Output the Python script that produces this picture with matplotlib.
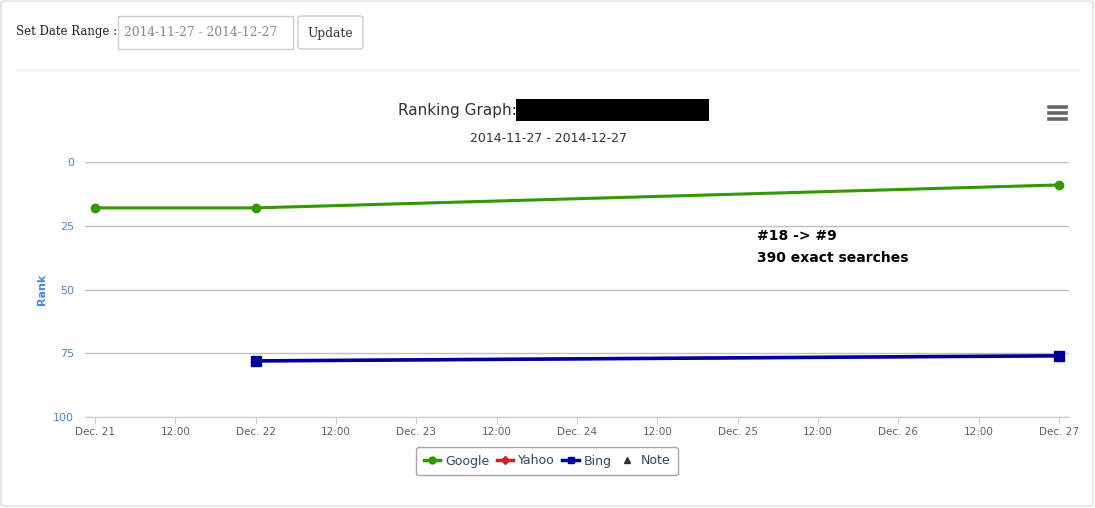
import datetime as dt
import matplotlib
matplotlib.use("Agg")
import matplotlib.pyplot as plt
import matplotlib.dates as mdates
from matplotlib.lines import Line2D
from matplotlib.patches import FancyBboxPatch, Rectangle

# data
google_dates = [dt.datetime(2014, 12, 21), dt.datetime(2014, 12, 22), dt.datetime(2014, 12, 27)]
google_rank = [18, 18, 9]
bing_dates = [dt.datetime(2014, 12, 22), dt.datetime(2014, 12, 27)]
bing_rank = [78, 76]
yahoo_dates = [dt.datetime(2014, 12, 22), dt.datetime(2014, 12, 27)]
yahoo_rank = [78, 76]
y_ticks = [0, 25, 50, 75, 100]
date_range = "2014-11-27 - 2014-12-27"
note_lines = ["#18 -> #9", "390 exact searches"]

W, H = 1095, 508
fig = plt.figure(figsize=(W / 100, H / 100), dpi=100)
fig.patch.set_facecolor("white")


def px(x, y):
    """pixel coords (top-left origin) -> figure fraction"""
    return x / W, 1 - y / H


def box(x0, y0, x1, y1, **kw):
    fx, fy = px(x0, y1)
    p = FancyBboxPatch((fx, fy), (x1 - x0) / W, (y1 - y0) / H,
                       transform=fig.transFigure, **kw)
    fig.patches.append(p)


# outer panel + form
box(1, 1, 1093, 506, boxstyle="round,pad=0,rounding_size=0.004",
    facecolor="none", edgecolor="#dddddd", linewidth=1)
fig.text(*px(16, 32), "Set Date Range :", family="DejaVu Serif", fontsize=8.5,
         va="center", ha="left", color="#222222")
box(118, 16, 293, 49, boxstyle="square,pad=0", facecolor="none",
    edgecolor="#cccccc", linewidth=1)
fig.text(*px(124, 33), date_range, family="DejaVu Serif", fontsize=8.8,
         va="center", ha="left", color="#888888")
box(298, 16, 363, 49, boxstyle="round,pad=0,rounding_size=0.004",
    facecolor="none", edgecolor="#cccccc", linewidth=1)
fig.text(*px(330.5, 33), "Update", family="DejaVu Serif", fontsize=8.8,
         va="center", ha="center", color="#333333")
fig.add_artist(Line2D([16 / W, 1079 / W], [1 - 70 / H] * 2, color="#eeeeee",
                      linewidth=1, transform=fig.transFigure))

# titles
fig.text(*px(398, 111), "Ranking Graph:", fontsize=11, va="center", ha="left",
         color="#333333")
rx, ry = px(516, 121)
fig.patches.append(Rectangle((rx, ry), 193 / W, 22 / H, transform=fig.transFigure,
                             facecolor="black", edgecolor="none", zorder=5))
fig.text(*px(548, 138), date_range, fontsize=9, va="center", ha="center",
         color="#333333")
for yy in (107, 113, 119):
    fig.add_artist(Line2D([1049 / W, 1066 / W], [1 - yy / H] * 2, color="#666666",
                          linewidth=2.6, transform=fig.transFigure))

# plot area
ax = fig.add_axes([85 / W, 1 - 417 / H, 984 / W, 255 / H])
ax.plot(yahoo_dates, yahoo_rank, color="#cc2222", linewidth=2.0, marker="D",
        markersize=4.5, zorder=2, alpha=0.6)
ax.plot(bing_dates, bing_rank, color="#000099", linewidth=2.6, marker="s",
        markersize=6.5, zorder=3)
ax.plot(google_dates, google_rank, color="#339900", linewidth=2.2, marker="o",
        markersize=6, zorder=4)

pad = dt.timedelta(hours=1.5)
ax.set_xlim(google_dates[0] - pad, google_dates[-1] + pad)
ax.set_ylim(100, 0)
ax.set_yticks(y_ticks)
ax.yaxis.grid(True, color="#c0c0c0", linewidth=1)
ax.set_axisbelow(True)
for s in ("top", "right", "left"):
    ax.spines[s].set_visible(False)
ax.spines["bottom"].set_color("#c0d0e0")
ax.tick_params(axis="y", length=0, labelsize=8, labelcolor="#4a86d8", pad=8)
ax.tick_params(axis="x", length=5, color="#c0d0e0", labelsize=7.5,
               labelcolor="#606060", pad=2)

ax.xaxis.set_major_locator(mdates.HourLocator(byhour=[0, 12]))


def fmt_date(v, pos=None):
    d = mdates.num2date(v)
    return d.strftime("%H:%M") if d.hour else "Dec. %d" % d.day


ax.xaxis.set_major_formatter(plt.FuncFormatter(fmt_date))
ax.set_ylabel("Rank", color="#4a86d8", fontsize=8, fontweight="bold", labelpad=4)

fig.text(*px(757, 236), note_lines[0], fontsize=10, fontweight="bold",
         va="center", ha="left", color="black")
fig.text(*px(757, 258), note_lines[1], fontsize=10, fontweight="bold",
         va="center", ha="left", color="black")

# legend
handles = [
    Line2D([], [], color="#339900", linewidth=2.5, marker="o", markersize=5),
    Line2D([], [], color="#cc2222", linewidth=2.5, marker="D", markersize=4),
    Line2D([], [], color="#000099", linewidth=2.5, marker="s", markersize=5),
    Line2D([], [], color="none", marker="^", markerfacecolor="#333333",
           markeredgecolor="#333333", markersize=5),
]
leg = fig.legend(handles, ["Google", "Yahoo", "Bing", "Note"], ncol=4,
                 loc="center", bbox_to_anchor=px(547, 461), fontsize=9,
                 frameon=True, handlelength=1.3, handletextpad=0.4,
                 columnspacing=0.6, borderpad=0.6, fancybox=True)
leg.get_frame().set_edgecolor("#909090")
leg.get_frame().set_linewidth(1)
for t in leg.get_texts():
    t.set_color("#274b6d")

fig.savefig("out.png", dpi=100)
